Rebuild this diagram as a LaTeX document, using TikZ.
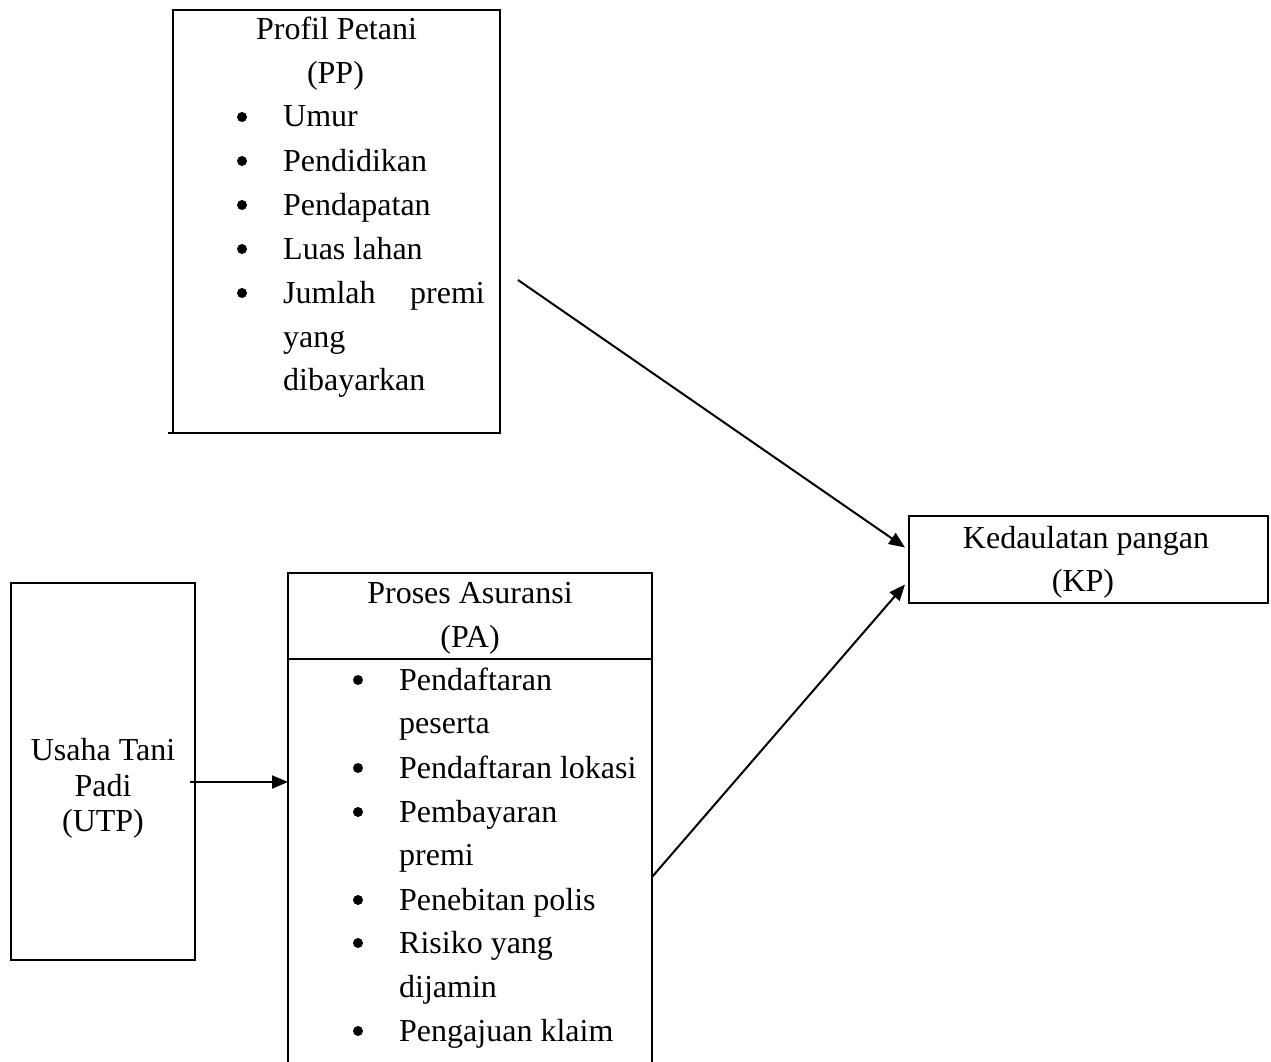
\documentclass[tikz,border=0pt]{standalone}
\usepackage{fontspec}
\setmainfont{Liberation Serif}
\usetikzlibrary{arrows.meta,calc}
\tikzset{
  box/.style={draw, line width=2pt, rectangle, inner sep=0pt, outer sep=0pt},
  txt/.style={font=\fontsize{32}{38}\selectfont, inner sep=0pt, anchor=base},
  itm/.style={txt, anchor=base west},
  bul/.style={circle, fill=black, minimum size=10pt, inner sep=0pt},
  conn/.style={line width=2pt, -{Triangle[length=16pt,width=13pt]}}
}
\begin{document}
\begin{tikzpicture}[x=1pt,y=-1pt]
\useasboundingbox (0,0) rectangle (1271,1062);
\clip (0,0) rectangle (1271,1062);
% Profil Petani box
\node[box, anchor=north west, minimum width=327pt, minimum height=423pt] (pp) at (173,10) {};
\coordinate (ppx) at (168,433);
\draw[line width=2pt] (ppx) -- (pp.south west);
\node[txt] (pp1) at (336.5,40) {Profil Petani};
\node[txt] (pp2) at (335.5,84) {(PP)};
\foreach \y/\t/\n in {127/Umur/a,171/Pendidikan/b,215/Pendapatan/c,259/Luas lahan/d,303/Jumlah/e}{
  \node[bul] (ppb\n) at (242,\y-10) {};
  \node[itm] (ppt\n) at (283,\y) {\t};
}
\node[txt, anchor=base east] (ppte2) at (485,303) {premi};
\node[itm] (pptf) at (283,347) {yang};
\node[itm] (pptg) at (283,390) {dibayarkan};
% Kedaulatan pangan box
\node[box, anchor=north west, minimum width=359pt, minimum height=87pt] (kp) at (909,516) {};
\node[txt] (kp1) at (1086,548) {Kedaulatan pangan};
\node[txt] (kp2) at (1083,591) {(KP)};
% Usaha Tani Padi box
\node[box, anchor=north west, minimum width=184pt, minimum height=377pt] (utp) at (11,583) {};
\node[txt] (utp1) at (103,760) {Usaha Tani};
\node[txt] (utp2) at (103,796) {Padi};
\node[txt] (utp3) at (103,831) {(UTP)};
% Proses Asuransi box
\node[box, anchor=north west, minimum width=364pt, minimum height=540pt] (pa) at (288,573) {};
\draw[line width=2pt] ($(pa.north west)+(0,86)$) -- ($(pa.north east)+(0,86)$);
\node[txt] (pa1) at (470,603) {Proses Asuransi};
\node[txt] (pa2) at (470,647) {(PA)};
\foreach \y/\t/\n in {690/Pendaftaran/a,778/Pendaftaran lokasi/c,822/Pembayaran/d,910/Penebitan polis/f,953/Risiko yang/g,1041/Pengajuan klaim/i}{
  \node[bul] (pab\n) at (358,\y-10) {};
  \node[itm] (pat\n) at (399,\y) {\t};
}
\node[itm] (patb) at (399,733) {peserta};
\node[itm] (pate) at (399,865) {premi};
\node[itm] (path) at (399,997) {dijamin};
% connectors
\coordinate (s1) at (518,280);
\draw[conn] (s1) -- ($(kp.west)+(-4,-12)$);
\draw[conn] ($(pa.north east)+(0,304)$) -- ($(kp.west)+(-4,25)$);
\draw[conn] ($(utp.east)+(-5,10.5)$) -- ($(pa.west |- utp.east)+(0,10.5)$);
\end{tikzpicture}
\end{document}
